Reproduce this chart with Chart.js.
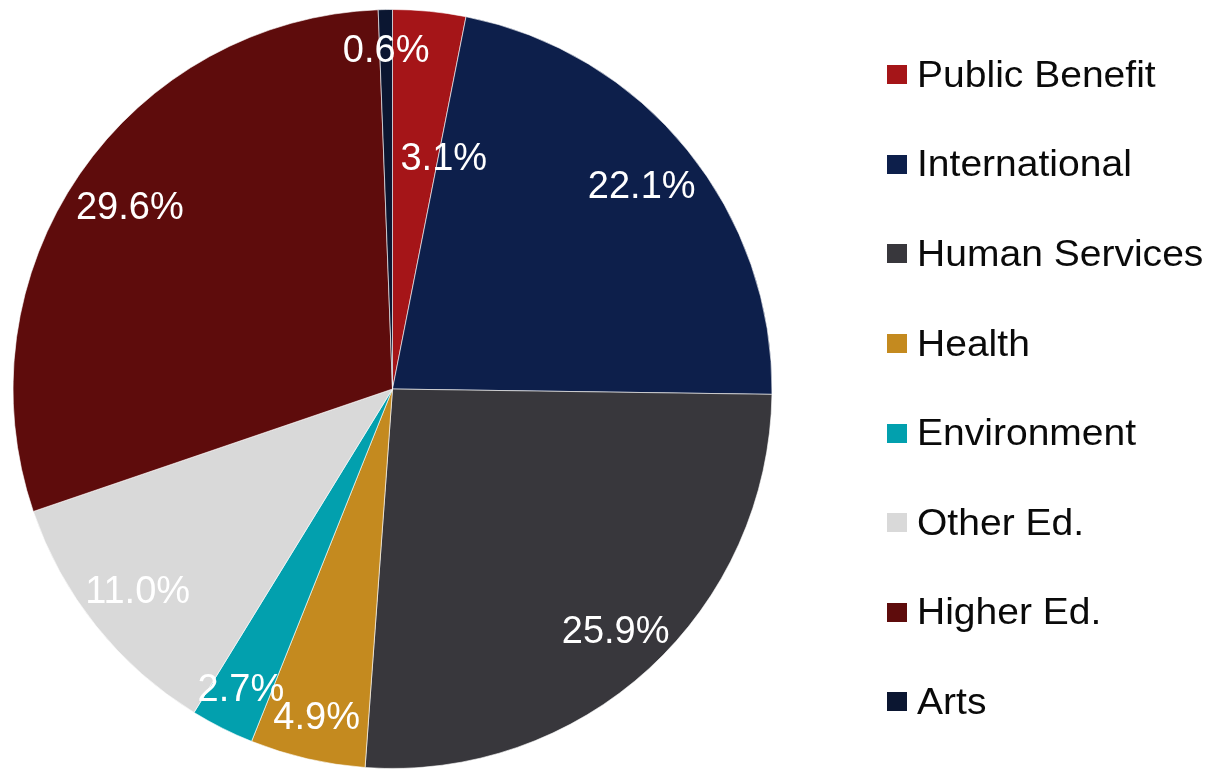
<!DOCTYPE html>
<html>
<head>
<meta charset="utf-8">
<script src="https://cdn.jsdelivr.net/npm/chart.js@4/dist/chart.umd.min.js"></script>
<style>
  body { margin: 0; background: #fff; }
  #wrap { position: relative; width: 1209px; height: 771px; }
  #legend {
    position: absolute; left: 887px; top: 30px;
    font-family: "Liberation Sans", Arial, sans-serif; font-size: 37px; color: #0a0a0a;
  }
  .row { display: flex; align-items: center; height: 89.6px; white-space: nowrap; }
  .box { width: 20px; height: 19px; margin-right: 10px; flex: none; }
  .txt { display: inline-block; transform: scaleX(1.055); transform-origin: left center; }
</style>
</head>
<body>
<div id="wrap">
  <canvas id="pie" width="1209" height="771"></canvas>
  <div id="legend"></div>
</div>
<script>
// sectors, clockwise from 12 o'clock
var categories = ['Public Benefit', 'International', 'Human Services', 'Health',
                  'Environment', 'Other Ed.', 'Higher Ed.', 'Arts']
var shares = [3.1, 22.1, 25.9, 4.9, 2.7, 11.0, 29.6, 0.6]
var colors = ['#A51518', '#0D1F4B', '#38373C', '#C48A1F',
              '#02A0AE', '#D9D9D9', '#5E0C0C', '#0B1631']

// where the percent labels sit: fraction of radius, plus a small angle nudge (deg)
var labelRadius = [0.62, 0.845, 0.87, 0.89, 0.89, 0.86, 0.84, 0.89]
var labelShift = [7, 0, 0, 0, 0, 0, 0, 0]

var pctLabels = {
  id: 'pctLabels',
  afterDatasetsDraw(chart) {
    var ctx = chart.ctx
    var arcs = chart.getDatasetMeta(0).data
    ctx.save()
    ctx.font = '38px "Liberation Sans", Arial, sans-serif'
    ctx.fillStyle = '#fff'
    ctx.textAlign = 'center'
    ctx.textBaseline = 'middle'
    arcs.forEach((arc, i) => {
      var mid = (arc.startAngle + arc.endAngle) / 2 + labelShift[i] * Math.PI / 180
      var r = arc.outerRadius * labelRadius[i]
      ctx.fillText(shares[i].toFixed(1) + '%', arc.x + Math.cos(mid) * r, arc.y + Math.sin(mid) * r)
    })
    ctx.restore()
  }
}

new Chart(document.getElementById('pie'), {
  type: 'pie',
  data: {
    labels: categories,
    datasets: [{
      data: shares,
      backgroundColor: colors,
      borderColor: 'rgba(255,255,255,0.6)',
      borderWidth: 1,
      hoverOffset: 0
    }]
  },
  options: {
    responsive: false,
    animation: false,
    layout: { padding: { left: 12, top: 9, right: 436, bottom: 2 } },
    plugins: { legend: { display: false }, tooltip: { enabled: false } }
  },
  plugins: [pctLabels]
})

// legend on the right, built from the same arrays
var legend = document.getElementById('legend')
categories.forEach((name, i) => {
  var row = document.createElement('div')
  row.className = 'row'
  row.innerHTML = '<span class="box" style="background:' + colors[i] + '"></span><span class="txt">' + name + '</span>'
  legend.appendChild(row)
})
</script>
</body>
</html>
